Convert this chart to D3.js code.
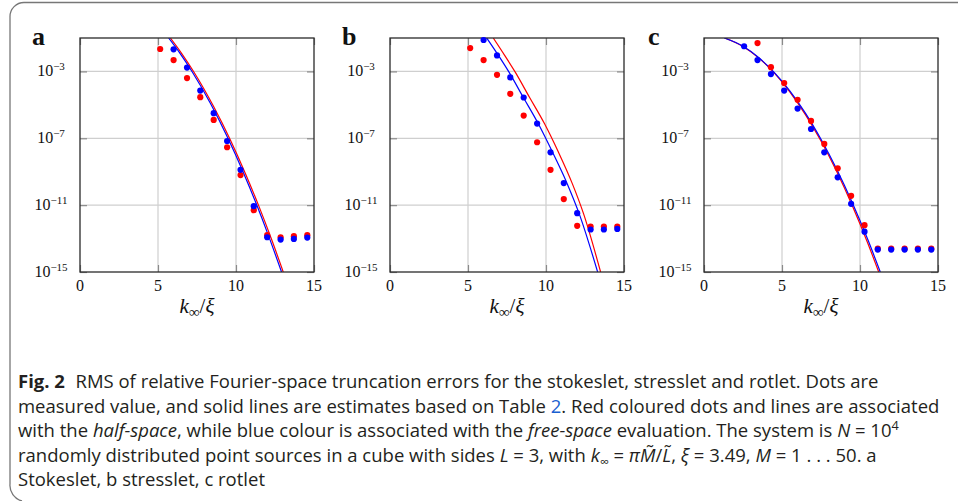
<!DOCTYPE html>
<html>
<head>
<meta charset="utf-8">
<script src="https://cdn.jsdelivr.net/npm/d3@7"></script>
<style>
    body { margin: 0; background: #fff; }
    svg { display: block; }
</style>
</head>
<body>
<div id="figure"></div>
<script>
// axis ticks
const xTicks = [0, 5, 10, 15];
const yTicks = [1e-3, 1e-7, 1e-11, 1e-15];
const panelLabels = ['a', 'b', 'c'];

// k_inf / xi of the measured dots
const kDotsAB = [5.14, 6.0, 6.86, 7.71, 8.57, 9.43, 10.29, 11.14, 12.0, 12.86, 13.71, 14.57];
const kDotsC = [2.57, 3.43, 4.29, 5.14, 6.0, 6.86, 7.71, 8.57, 9.43, 10.29, 11.14, 12.0, 12.86, 13.71, 14.57];

// measured RMS errors (red = half-space, blue = free-space)
const stokesHalf = [2.2e-2, 4.8e-3, 4.0e-4, 2.9e-5, 1.26e-6, 2.9e-8, 6.3e-10, 5.0e-12, 1.6e-13, 1.2e-13, 1.4e-13, 1.6e-13];
const stokesFree = [2.1e-2, 1.7e-3, 7.2e-5, 3.2e-6, 6.9e-8, 1.3e-9, 8.7e-12, 1.2e-13, 8.7e-14, 9.5e-14, 1.15e-13];
const stressHalf = [2.5e-2, 4.8e-3, 6.3e-4, 4.6e-5, 2.3e-6, 5.8e-8, 1.3e-9, 2.3e-11, 5.8e-13, 5.2e-13, 5.2e-13, 5.2e-13];
const stressFree = [7.6e-2, 9.1e-3, 4.4e-4, 2.75e-5, 7.6e-7, 1.45e-8, 2.1e-10, 3.3e-12, 3.5e-13, 3.5e-13, 3.8e-13];
const rotletHalf = [5.0e-2, 1.8e-3, 2.0e-4, 2.0e-5, 1.1e-6, 4.6e-8, 1.6e-9, 3.6e-11, 6.3e-13, 2.5e-14, 2.5e-14, 2.5e-14, 2.5e-14, 2.5e-14];
const rotletFree = [3.2e-2, 4.8e-3, 6.9e-4, 7.2e-5, 6.0e-6, 3.6e-7, 1.45e-8, 4.6e-10, 1.2e-11, 2.6e-13, 2.2e-14, 2.2e-14, 2.2e-14, 2.2e-14, 2.2e-14];

// estimate curves: [k, error]
const stokesHalfEst = [[5.79, 1e-1], [6.5, 1.26e-2], [7.3, 9.3e-4], [8.55, 8.5e-6], [9.64, 7.9e-8], [10.6, 7.9e-10], [11.44, 1e-11], [12.26, 1e-13], [13.03, 1e-15]];
const stokesFreeEst = [[5.68, 1e-1], [6.4, 1.26e-2], [7.2, 9.3e-4], [8.4, 1.05e-5], [9.5, 9.3e-8], [10.45, 1e-9], [11.3, 1.2e-11], [12.1, 1.35e-13], [12.92, 1e-15]];
const stressHalfEst = [[6.62, 1e-1], [7.35, 9.1e-3], [8.0, 1e-3], [8.95, 2.75e-5], [9.9, 7.6e-7], [10.8, 1.45e-8], [11.68, 2.0e-10], [12.4, 3.2e-12], [13.5, 1e-15]];
const stressFreeEst = [[6.2, 1e-1], [6.95, 9.1e-3], [7.6, 1e-3], [8.55, 2.75e-5], [9.5, 7.6e-7], [10.42, 1.45e-8], [11.35, 2.0e-10], [12.12, 3.2e-12], [13.31, 1e-15]];
const rotletHalfEst = [[1.33, 1e-1], [2.5, 3.1e-2], [3.5, 6.5e-3], [4.5, 8.1e-4], [5.5, 6.0e-5], [6.5, 2.6e-6], [7.5, 6.8e-8], [8.5, 1.05e-9], [9.5, 9.5e-12], [10.5, 5.2e-14], [11.2, 1e-15]];
const rotletFreeEst = [[1.3, 1e-1], [2.5, 3.2e-2], [3.5, 6.8e-3], [4.5, 8.7e-4], [5.5, 6.8e-5], [6.5, 3.2e-6], [7.5, 8.7e-8], [8.5, 1.45e-9], [9.5, 1.45e-11], [10.5, 8.7e-14], [11.3, 1e-15]];

const svgWidth = 958;
const svgHeight = 501;

const plotTop = 38;
const plotSize = 234;
const plotLefts = [80, 390, 704];

const redColour = '#ff0000';
const blueColour = '#0000ff';
const serif = '"Liberation Serif", "DejaVu Serif", serif';

const svg = d3.select('#figure')
    .append('svg')
    .attr('width', svgWidth)
    .attr('height', svgHeight);

// rounded frame of the figure box (only top and left visible)
svg.append('path')
    .attr('d', `M ${svgWidth} 2.5 H 24 A 14 14 0 0 0 10 16.5 V 484 A 16 16 0 0 0 22 501`)
    .attr('fill', 'none')
    .attr('stroke', '#777')
    .attr('stroke-width', 1.3);

const panels = [
    { half: kDotsAB.map((k, i) => [k, stokesHalf[i]]),
      free: kDotsAB.slice(1).map((k, i) => [k, stokesFree[i]]),
      halfEst: stokesHalfEst, freeEst: stokesFreeEst },
    { half: kDotsAB.map((k, i) => [k, stressHalf[i]]),
      free: kDotsAB.slice(1).map((k, i) => [k, stressFree[i]]),
      halfEst: stressHalfEst, freeEst: stressFreeEst },
    { half: kDotsC.slice(1).map((k, i) => [k, rotletHalf[i]]),
      free: kDotsC.map((k, i) => [k, rotletFree[i]]),
      halfEst: rotletHalfEst, freeEst: rotletFreeEst }
];

panels.forEach((panel, index) => drawPanel(panel, index));

function drawPanel(panel, index) {
    const left = plotLefts[index];

    const x = d3.scaleLinear().domain([0, 15]).range([left, left + plotSize]);
    const y = d3.scaleLog().domain([1e-15, 1e-1]).range([plotTop + plotSize, plotTop]);

    const g = svg.append('g');

    // grid
    g.selectAll('.xgrid')
        .data(xTicks.slice(1, -1))
        .join('line')
        .attr('x1', d => x(d)).attr('x2', d => x(d))
        .attr('y1', plotTop).attr('y2', plotTop + plotSize)
        .attr('stroke', '#cfcfcf')
        .attr('stroke-width', 1.2);

    g.selectAll('.ygrid')
        .data(yTicks.slice(0, -1))
        .join('line')
        .attr('x1', left).attr('x2', left + plotSize)
        .attr('y1', d => y(d)).attr('y2', d => y(d))
        .attr('stroke', '#cfcfcf')
        .attr('stroke-width', 1.2);

    // inward ticks with d3 axes
    const tickLen = 7;
    const axes = [
        d3.axisBottom(x).tickValues(xTicks).tickSize(-tickLen).tickFormat(''),
        d3.axisTop(x).tickValues(xTicks).tickSize(-tickLen).tickFormat(''),
        d3.axisLeft(y).tickValues(yTicks).tickSize(-tickLen).tickFormat(''),
        d3.axisRight(y).tickValues(yTicks).tickSize(-tickLen).tickFormat('')
    ];
    const offsets = [
        `translate(0, ${plotTop + plotSize})`, `translate(0, ${plotTop})`,
        `translate(${left}, 0)`, `translate(${left + plotSize}, 0)`
    ];
    axes.forEach((axis, i) => {
        const a = g.append('g').attr('transform', offsets[i]).call(axis);
        a.select('.domain').remove();
        a.selectAll('line').attr('stroke', '#8a8a8a').attr('stroke-width', 1.2);
    });

    // estimate lines, clipped to plot area
    const clipId = 'clip' + index;
    svg.append('clipPath').attr('id', clipId)
        .append('rect')
        .attr('x', left).attr('y', plotTop)
        .attr('width', plotSize).attr('height', plotSize);

    const line = d3.line()
        .x(d => x(d[0]))
        .y(d => y(d[1]))
        .curve(d3.curveMonotoneX);

    const lines = g.append('g').attr('clip-path', `url(#${clipId})`);
    [[panel.halfEst, redColour], [panel.freeEst, blueColour]].forEach(([data, colour]) => {
        lines.append('path')
            .attr('d', line(data))
            .attr('fill', 'none')
            .attr('stroke', colour)
            .attr('stroke-width', 1.2);
    });

    // frame
    g.append('rect')
        .attr('x', left).attr('y', plotTop)
        .attr('width', plotSize).attr('height', plotSize)
        .attr('fill', 'none')
        .attr('stroke', '#2a2a2a')
        .attr('stroke-width', 1.3);

    // dots
    [[panel.half, redColour], [panel.free, blueColour]].forEach(([data, colour]) => {
        g.selectAll(null)
            .data(data)
            .join('circle')
            .attr('cx', d => x(d[0]))
            .attr('cy', d => y(d[1]))
            .attr('r', 3.1)
            .attr('fill', colour);
    });

    // x tick labels
    g.selectAll('.xlab')
        .data(xTicks)
        .join('text')
        .attr('x', d => x(d))
        .attr('y', plotTop + plotSize + 19)
        .attr('text-anchor', 'middle')
        .attr('font-family', serif)
        .attr('font-size', 16)
        .attr('fill', '#111')
        .text(d => d);

    // y tick labels 10^n
    yTicks.forEach(t => {
        const label = g.append('text')
            .attr('x', left - 29)
            .attr('y', y(t) + 5)
            .attr('text-anchor', 'middle')
            .attr('font-family', serif)
            .attr('font-size', 16)
            .attr('fill', '#111');
        label.append('tspan').text('10');
        label.append('tspan')
            .attr('dy', -6.5)
            .attr('font-size', 11)
            .text('\u2212' + Math.round(-Math.log10(t)));
    });

    // axis title k_inf / xi
    const title = g.append('text')
        .attr('x', left + plotSize / 2)
        .attr('y', 313)
        .attr('text-anchor', 'middle')
        .attr('font-family', serif)
        .attr('font-size', 21)
        .attr('fill', '#111');
    title.append('tspan').attr('font-style', 'italic').text('k');
    title.append('tspan').attr('dy', 4).attr('font-size', 15).text('\u221e');
    title.append('tspan').attr('dy', -4).text('/');
    title.append('tspan').attr('font-style', 'italic').text('\u03be');

    // panel letter
    svg.append('text')
        .attr('x', left - (index === 2 ? 56 : 48))
        .attr('y', 45)
        .attr('font-family', serif)
        .attr('font-weight', 'bold')
        .attr('font-size', 26)
        .attr('fill', '#111')
        .text(panelLabels[index]);
}

// caption
const captionLines = [
    [{ t: 'Fig. 2', bold: true }, { t: 'RMS of relative Fourier-space truncation errors for the stokeslet, stresslet and rotlet. Dots are', dx: 10 }],
    [{ t: 'measured value, and solid lines are estimates based on Table ' }, { t: '2', link: true }, { t: '. Red coloured dots and lines are associated' }],
    [{ t: 'with the ' }, { t: 'half-space', italic: true }, { t: ', while blue colour is associated with the ' }, { t: 'free-space', italic: true },
     { t: ' evaluation. The system is ' }, { t: 'N', italic: true }, { t: ' = 10' }, { t: '4', sup: true }],
    [{ t: 'randomly distributed point sources in a cube with sides ' }, { t: 'L', italic: true }, { t: ' = 3, with ' }, { t: 'k', italic: true },
     { t: '\u221e', sub: true }, { t: ' = ', unsub: true }, { t: '\u03c0', italic: true }, { t: 'M\u0303', italic: true }, { t: '/' },
     { t: 'L\u0303', italic: true }, { t: ', ' }, { t: '\u03be', italic: true }, { t: ' = 3.49, ' }, { t: 'M', italic: true }, { t: ' = 1 . . . 50. a' }],
    [{ t: 'Stokeslet, b stresslet, c rotlet' }]
];
const captionBaselines = [388, 412.5, 437, 461.5, 486];
const captionLeft = 18;
const captionTarget = 940 - captionLeft;

const captionTexts = captionLines.map((parts, i) => {
    const text = svg.append('text')
        .attr('x', 0)
        .attr('y', 0)
        .attr('font-family', '"Open Sans", "Noto Sans", sans-serif')
        .attr('font-size', 17.5)
        .attr('fill', '#231f20')
        .style('white-space', 'pre');
    parts.forEach(p => {
        const span = text.append('tspan').text(p.t);
        if (p.bold) span.attr('font-weight', 'bold');
        if (p.italic) span.attr('font-style', 'italic');
        if (p.link) span.attr('fill', '#1a5fd0');
        if (p.dx) span.attr('dx', p.dx);
        if (p.sup) span.attr('dy', -7).attr('font-size', 12);
        if (p.sub) span.attr('dy', 4).attr('font-size', 12);
        if (p.unsub) span.attr('dy', -4);
    });
    return text;
});

const scaleX = captionTarget / captionTexts[1].node().getComputedTextLength();
captionTexts.forEach((text, i) => {
    text.attr('transform', `translate(${captionLeft}, ${captionBaselines[i]}) scale(${scaleX}, 1)`);
});
</script>
</body>
</html>
